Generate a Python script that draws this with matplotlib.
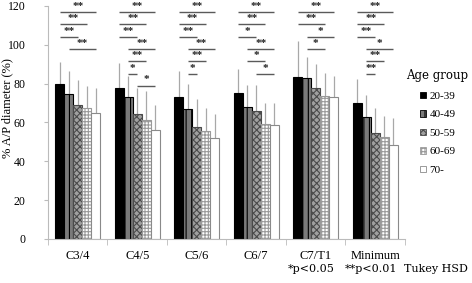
import numpy as np
import matplotlib
matplotlib.use('Agg')
from matplotlib import pyplot as plt
from matplotlib.patches import Patch

groups = ['C3/4', 'C4/5', 'C5/6', 'C6/7', 'C7/T1', 'Minimum']
ages = ['20-39', '40-49', '50-59', '60-69', '70-']

# mean % A/P diameter per age group
m_2039 = [80.0, 78.0, 73.0, 75.0, 83.5, 70.0]
m_4049 = [74.5, 73.0, 67.0, 68.0, 83.0, 63.0]
m_5059 = [69.0, 64.5, 57.5, 66.0, 78.0, 54.5]
m_6069 = [67.5, 61.5, 55.5, 59.0, 73.5, 52.5]
m_70   = [65.0, 56.0, 52.0, 58.5, 73.0, 48.5]

# SD (upper error bar only)
sd_2039 = [11.0, 12.5, 13.5, 12.5, 18.5, 12.5]
sd_4049 = [12.0, 11.0, 13.0, 11.5, 10.5, 11.0]
sd_5059 = [13.0, 13.0, 14.5, 13.5, 12.0, 13.0]
sd_6069 = [11.5, 14.5, 12.0, 11.0, 12.0, 11.0]
sd_70   = [13.0, 13.0, 12.5, 11.5, 11.0, 14.0]

# significance brackets: group, from bar, to bar, height, label
sig_group = [0, 0, 0, 0,
             1, 1, 1, 1, 1, 1, 1,
             2, 2, 2, 2, 2, 2,
             3, 3, 3, 3, 3, 3,
             4, 4, 4, 4,
             5, 5, 5, 5, 5, 5]
sig_from = [0, 0, 0, 1,
            0, 0, 0, 1, 1, 1, 2,
            0, 0, 0, 1, 1, 1,
            0, 0, 0, 1, 1, 2,
            0, 0, 1, 1,
            0, 0, 0, 1, 1, 1]
sig_to = [4, 3, 2, 4,
          4, 3, 2, 4, 3, 2, 4,
          4, 3, 2, 4, 3, 2,
          4, 3, 2, 4, 3, 4,
          4, 3, 4, 3,
          4, 3, 2, 4, 3, 2]
sig_y = [117, 110.5, 104, 98,
         117, 110.5, 104, 98, 91.5, 85, 79,
         117, 110.5, 104, 98, 91.5, 85,
         117, 110.5, 104, 98, 91.5, 85,
         117, 110.5, 104, 98,
         117, 110.5, 104, 98, 91.5, 85]
sig_txt = ['**', '**', '**', '**',
           '**', '**', '**', '**', '**', '*', '*',
           '**', '**', '**', '**', '**', '*',
           '**', '**', '*', '**', '*', '*',
           '**', '**', '*', '*',
           '**', '**', '**', '*', '**', '**']

plt.rcParams['font.family'] = ['Liberation Serif', 'DejaVu Serif']
plt.rcParams['hatch.linewidth'] = 0.8

means = [m_2039, m_4049, m_5059, m_6069, m_70]
sds = [sd_2039, sd_4049, sd_5059, sd_6069, sd_70]
faces = ['black', '#7a7a7a', '#a0a0a0', 'white', 'white']
edges = ['black', 'black', '#4a4a4a', '#9a9a9a', '#8a8a8a']
hatches = [None, '|||', 'xxxxx', '+++++', None]

fig = plt.figure(figsize=(4.72, 2.83), dpi=100)
ax = fig.add_axes([0.1017, 0.1555, 0.7563, 0.8235])

x = np.arange(len(groups))
w = 0.151
for k in range(5):
    xs = x + (k - 2) * w
    ax.bar(xs, means[k], w, color=faces[k], edgecolor=edges[k], hatch=hatches[k],
           linewidth=0.8, zorder=2)
    ax.errorbar(xs, means[k], yerr=[np.zeros(len(groups)), sds[k]], fmt='none',
                ecolor='#a8a8a8', elinewidth=0.9, capsize=0, zorder=1)

for g, i, j, y, t in zip(sig_group, sig_from, sig_to, sig_y, sig_txt):
    x0 = g + (i - 2) * w
    x1 = g + (j - 2) * w
    ax.plot([x0, x1], [y, y], color='#5a5a5a', lw=1.0, solid_capstyle='butt')
    ax.text((x0 + x1) / 2, y + 0.6, t, ha='center', va='bottom', fontsize=8,
            fontweight='bold', color='#222222')

ax.set_xlim(-0.5, len(groups) - 0.5)
ax.set_ylim(0, 120)
ax.set_yticks([0, 20, 40, 60, 80, 100, 120])
ax.set_xticks(x)
ax.set_xticklabels(groups, fontsize=9)
ax.set_xticks(np.arange(len(groups) + 1) - 0.5, minor=True)
ax.tick_params(axis='x', which='major', length=0, pad=8)
ax.tick_params(axis='x', which='minor', length=4, color='#bbbbbb', direction='out')
ax.tick_params(axis='y', length=3, color='#bbbbbb', labelsize=8.5, pad=13)
for s in ['top', 'right']:
    ax.spines[s].set_visible(False)
for s in ['left', 'bottom']:
    ax.spines[s].set_color('#bbbbbb')
ax.set_ylabel('% A/P diameter (%)', fontsize=9)
ax.yaxis.set_label_coords(-0.097, 0.56)

handles = [Patch(facecolor=faces[k], edgecolor=edges[k], hatch=hatches[k], linewidth=0.6)
           for k in range(5)]
leg = fig.legend(handles, ages, title='Age group', loc='upper left',
                 bbox_to_anchor=(0.84, 0.79), frameon=False, fontsize=8,
                 handlelength=0.55, handleheight=0.55,
                 handletextpad=0.3, labelspacing=0.83)
leg.get_title().set_fontfamily('DejaVu Serif')
leg.get_title().set_fontsize(8.5)

fig.text(288 / 472, 0.05, '*p<0.05', fontsize=8, va='center', family='DejaVu Serif')
fig.text(345 / 472, 0.05, '**p<0.01', fontsize=8, va='center', family='DejaVu Serif')
fig.text(404 / 472, 0.05, 'Tukey HSD', fontsize=8, va='center', family='DejaVu Serif')

fig.savefig('out.png', dpi=100)
